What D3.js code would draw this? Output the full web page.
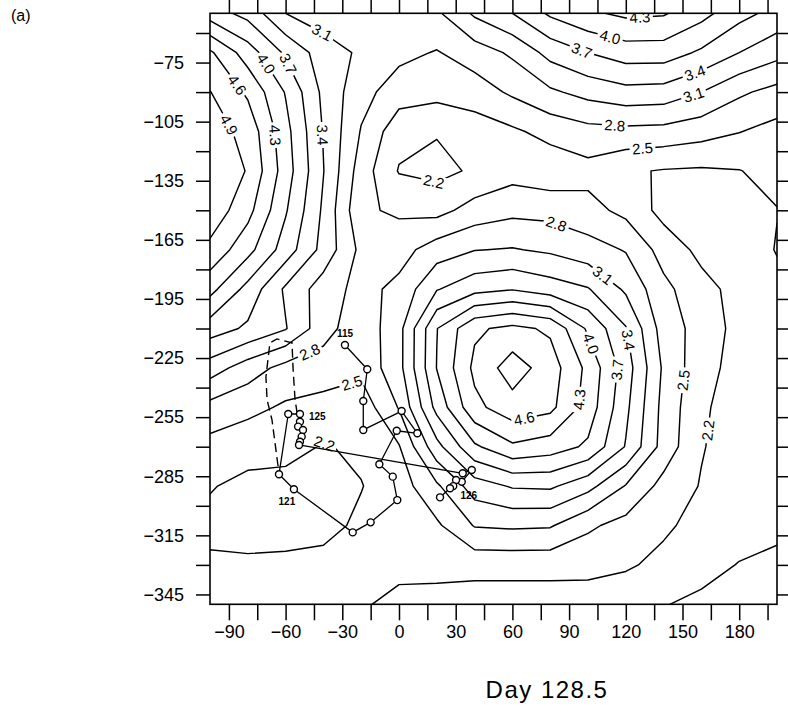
<!DOCTYPE html>
<html>
<head>
<meta charset="utf-8">
<script src="https://cdn.jsdelivr.net/npm/d3@7"></script>
<style>
  body { margin: 0; background: #fff; }
  svg { display: block; }
  text { font-family: "Liberation Sans", Arial, Helvetica, sans-serif; }
</style>
</head>
<body>
<svg id="chart" width="788" height="725"></svg>
<script>
// Analysed field on a regular 20-unit grid (rows from y = -50 down to y = -350)
const gridLon = d3.range(-100, 201, 20);
const gridLat = d3.range(-50, -351, -20);
const field = [
  [3.85, 3.60, 3.10, 2.95, 2.90, 2.90, 3.05, 3.45, 3.70, 4.05, 4.25, 4.36, 4.33, 4.10, 3.80, 3.60],
  [4.65, 4.15, 3.65, 3.25, 3.05, 2.88, 2.78, 2.95, 3.15, 3.50, 3.70, 3.85, 3.85, 3.65, 3.40, 3.20],
  [4.91, 4.55, 3.98, 3.33, 2.90, 2.65, 2.60, 2.65, 2.85, 3.05, 3.20, 3.30, 3.28, 3.10, 2.85, 2.70],
  [5.05, 4.80, 4.10, 3.38, 2.78, 2.30, 2.22, 2.35, 2.45, 2.60, 2.70, 2.72, 2.70, 2.62, 2.51, 2.40],
  [5.15, 4.88, 4.15, 3.41, 2.65, 2.18, 2.12, 2.24, 2.38, 2.30, 2.40, 2.24, 2.18, 2.16, 2.19, 2.30],
  [5.10, 4.70, 4.03, 3.35, 2.55, 2.45, 2.40, 2.62, 2.72, 2.70, 2.60, 2.42, 2.10, 2.05, 2.08, 2.19],
  [4.82, 4.40, 3.86, 3.30, 2.72, 2.68, 2.95, 3.09, 3.12, 3.05, 2.92, 2.78, 2.38, 2.12, 1.98, 2.22],
  [4.40, 3.90, 3.35, 2.95, 2.70, 2.88, 3.38, 3.60, 3.68, 3.55, 3.42, 3.05, 2.58, 2.30, 2.10, 2.10],
  [3.85, 3.65, 3.42, 2.92, 2.60, 3.00, 3.99, 4.55, 4.68, 4.55, 3.95, 3.42, 2.66, 2.38, 2.10, 2.05],
  [3.25, 2.95, 2.70, 2.65, 2.58, 3.00, 4.01, 4.67, 5.05, 4.75, 4.22, 3.55, 2.75, 2.30, 2.10, 2.05],
  [2.70, 2.58, 2.46, 2.40, 2.32, 2.82, 3.80, 4.52, 4.78, 4.68, 4.17, 3.47, 2.70, 2.25, 2.05, 2.00],
  [2.40, 2.32, 2.30, 2.18, 2.25, 2.48, 3.30, 3.95, 4.25, 4.15, 3.95, 3.38, 2.68, 2.22, 2.05, 2.00],
  [2.22, 2.12, 2.10, 2.10, 2.19, 2.35, 2.75, 3.25, 3.43, 3.45, 3.20, 2.78, 2.40, 2.18, 2.05, 1.98],
  [2.12, 2.05, 2.05, 2.12, 2.25, 2.32, 2.45, 2.82, 2.85, 2.83, 2.55, 2.40, 2.25, 2.10, 2.00, 1.95],
  [2.25, 2.26, 2.28, 2.28, 2.28, 2.30, 2.33, 2.30, 2.30, 2.30, 2.30, 2.24, 2.12, 1.98, 1.89, 1.85],
  [2.30, 2.30, 2.30, 2.28, 2.24, 2.10, 2.05, 2.05, 2.05, 2.05, 2.04, 2.00, 1.91, 1.85, 1.80, 1.75]
];
const levels = [1.9, 2.2, 2.5, 2.8, 3.1, 3.4, 3.7, 4.0, 4.3, 4.6, 4.9];

// Contour labels: level and approximate place along the line
const labelLevel = [4.9, 4.6, 4.3, 4.0, 3.7, 3.4, 3.1, 2.8, 2.5, 2.2,
                    4.3, 4.0, 3.7, 3.4, 3.1, 2.8, 2.5,
                    2.2,
                    2.8, 3.1, 3.4, 3.7, 4.0, 4.3, 4.6, 2.5, 2.2];
const labelLon = [-88.4, -85.7, -64.6, -69.8, -56.6, -40.7, -39.2, -48.1, -25.9, -39.2,
                  127.5, 111.6, 96.8, 156.6, 155.6, 114.3, 128.6,
                  18,
                  83.6, 110, 121.2, 115.9, 102.6, 97.4, 66.7, 148.7, 161.9];
const labelLat = [-105.7, -86.4, -111.8, -75.2, -74.7, -111.8, -57, -220, -234.6, -267.6,
                  -52.4, -62.5, -68.6, -80.3, -90.5, -105.2, -115.9,
                  -137.2,
                  -156, -180.3, -215.8, -231, -217.3, -246.3, -258, -236.1, -261.5];

// Track positions
const trackLon = [-28.6, -16.8, -18.9, -18.9, 1.4, 9.7, -1.2, -10.4, -3.3, -0.9, -15.0, -24.5,
                  -55.6, -63.5, -58.6, -52.4, -52.4, -53.4, -50.8, -51.5, -52.4, -52.9,
                  33.7, 38.5, 33.2, 30.2, 28.7, 27.0, 21.7];
const trackLat = [-218.4, -230.7, -246.8, -261.5, -251.9, -263.2, -261.9, -278.9, -285.2, -297.1, -308.4, -313.5,
                  -291.6, -284.0, -253.4, -253.4, -257.3, -259.8, -261.5, -264.9, -267.5, -269.1,
                  -283.5, -281.8, -287.8, -286.9, -290.0, -291.1, -295.7];
const dayText = ["115", "121", "125", "126"];
const dayIndex = [0, 12, 15, 24];

// Dashed outline
const dashLon = [-64.0, -67.2, -69.8, -70.4, -68.3, -64.6, -56.6, -56.1, -55.0, -54.0];
const dashLat = [-279.8, -256.4, -246.2, -234.6, -217.3, -215.3, -217.3, -229.5, -246.2, -252.3];

// Axis ticks
const xTicks = d3.range(-90, 196, 15);
const xTickLabels = [-90, -60, -30, 0, 30, 60, 90, 120, 150, 180];
const yTicks = d3.range(-60, -346, -15);
const yTickLabels = [-75, -105, -135, -165, -195, -225, -255, -285, -315, -345];

const titleText = "Day 128.5";
const panelText = "(a)";

// ---------------------------------------------------------------
const svg = d3.select("#chart");
const x = d3.scaleLinear().domain([-100, 200]).range([210, 777]);
const y = d3.scaleLinear().domain([-50, -350]).range([13.3, 604.3]);
const X0 = x.range()[0], X1 = x.range()[1], Y0 = y.range()[0], Y1 = y.range()[1];

svg.append("defs").append("clipPath").attr("id", "plotclip")
  .append("rect").attr("x", X0).attr("y", Y0).attr("width", X1 - X0).attr("height", Y1 - Y0);

const nx = gridLon.length, ny = gridLat.length;
const step = gridLon[1] - gridLon[0];
const gx = c => gridLon[0] + (c - 0.5) * step;
const gy = r => gridLat[0] - (r - 0.5) * step;
const toPx = p => [x(gx(p[0])), y(gy(p[1]))];

const contours = d3.contours().size([nx, ny]).thresholds(levels)(field.flat());
const proj = d3.geoTransform({
  point(px, py) { const q = toPx([px, py]); this.stream.point(q[0], q[1]); }
});
const geo = d3.geoPath(proj);

const plot = svg.append("g").attr("clip-path", "url(#plotclip)");
plot.selectAll("path.iso").data(contours).join("path")
  .attr("class", "iso")
  .attr("d", geo)
  .attr("fill", "none")
  .attr("stroke", "#000")
  .attr("stroke-width", 1.45)
  .attr("stroke-linejoin", "round");

// place each label on its contour, oriented along the line
const inside = p => p[0] >= X0 - 0.5 && p[0] <= X1 + 0.5 && p[1] >= Y0 - 0.5 && p[1] <= Y1 + 0.5;
function snap(level, tx, ty) {
  const c = contours.find(d => Math.abs(d.value - level) < 1e-6);
  let best = null;
  c.coordinates.forEach(poly => poly.forEach(ring => {
    const pts = ring.map(toPx);
    for (let i = 0; i < pts.length - 1; i++) {
      const a = pts[i], b = pts[i + 1];
      if (!inside(a) || !inside(b)) continue;
      const dx = b[0] - a[0], dy = b[1] - a[1];
      const L2 = dx * dx + dy * dy;
      if (L2 < 1e-9) continue;
      let t = ((tx - a[0]) * dx + (ty - a[1]) * dy) / L2;
      t = Math.max(0, Math.min(1, t));
      const qx = a[0] + t * dx, qy = a[1] + t * dy;
      const d2 = (qx - tx) ** 2 + (qy - ty) ** 2;
      if (!best || d2 < best.d2) best = { d2, qx, qy, ang: Math.atan2(dy, dx) * 180 / Math.PI };
    }
  }));
  let a = best.ang;
  if (a > 90) a -= 180;
  if (a <= -90) a += 180;
  return { x: best.qx, y: best.qy, ang: a };
}
const fmt1 = d3.format(".1f");
const labG = plot.append("g");
labelLevel.forEach((lev, i) => {
  const s = snap(lev, x(labelLon[i]), y(labelLat[i]));
  const g = labG.append("g").attr("transform", `translate(${s.x},${s.y}) rotate(${s.ang})`);
  const rect = g.append("rect").attr("fill", "#fff");
  const t = g.append("text")
    .attr("text-anchor", "middle")
    .attr("dy", "0.36em")
    .attr("font-size", 15)
    .attr("fill", "#000")
    .text(fmt1(lev));
  const w = t.node().getComputedTextLength() + 5;
  rect.attr("x", -w / 2).attr("y", -6).attr("width", w).attr("height", 12);
});

// dashed outline
const dashPts = dashLon.map((v, i) => [v, dashLat[i]]);
const line = d3.line().x(d => x(d[0])).y(d => y(d[1]));
plot.append("path").attr("d", line(dashPts))
  .attr("fill", "none").attr("stroke", "#000").attr("stroke-width", 1.4)
  .attr("stroke-dasharray", "9,5");

// track
const trackPts = trackLon.map((v, i) => [v, trackLat[i]]);
plot.append("path").attr("d", line(trackPts))
  .attr("fill", "none").attr("stroke", "#000").attr("stroke-width", 1.3)
  .attr("stroke-linejoin", "round");
plot.selectAll("circle.trk").data(trackPts).join("circle")
  .attr("class", "trk")
  .attr("cx", d => x(d[0])).attr("cy", d => y(d[1]))
  .attr("r", 3.5)
  .attr("fill", "#fff").attr("stroke", "#000").attr("stroke-width", 1.4);

const dayOffset = { "115": [0, -8, "middle"], "121": [-7, 16, "middle"], "125": [9, 6, "start"], "126": [7, 17, "middle"] };
dayText.forEach((txt, k) => {
  const p = trackPts[dayIndex[k]];
  const o = dayOffset[txt];
  plot.append("text")
    .attr("x", x(p[0]) + o[0]).attr("y", y(p[1]) + o[1])
    .attr("text-anchor", o[2])
    .attr("font-size", 10).attr("font-weight", "bold")
    .text(txt);
});

// frame
svg.append("rect").attr("x", X0).attr("y", Y0).attr("width", X1 - X0).attr("height", Y1 - Y0)
  .attr("fill", "none").attr("stroke", "#000").attr("stroke-width", 1.6);

// axes
const fmtTick = d3.format("d");
const xLab = v => xTickLabels.includes(v) ? fmtTick(v) : "";
const yLab = v => yTickLabels.includes(v) ? fmtTick(v) : "";
function styleAxis(g, size) {
  g.select(".domain").remove();
  g.selectAll(".tick line").attr("stroke", "#000").attr("stroke-width", 1.5);
  g.selectAll(".tick text").attr("font-size", size).attr("fill", "#000")
    .attr("font-family", '"Liberation Sans", Arial, Helvetica, sans-serif');
}
svg.append("g").attr("transform", `translate(0,${Y1})`)
  .call(d3.axisBottom(x).tickValues(xTicks).tickSizeInner(16).tickSizeOuter(0).tickPadding(5).tickFormat(xLab))
  .call(g => styleAxis(g, 18));
svg.append("g").attr("transform", `translate(0,${Y0})`)
  .call(d3.axisTop(x).tickValues(xTicks).tickSizeInner(14).tickSizeOuter(0).tickFormat(""))
  .call(g => styleAxis(g, 18));
svg.append("g").attr("transform", `translate(${X0},0)`)
  .call(d3.axisLeft(y).tickValues(yTicks).tickSizeInner(14).tickSizeOuter(0).tickPadding(12).tickFormat(yLab))
  .call(g => styleAxis(g, 18));
svg.append("g").attr("transform", `translate(${X1},0)`)
  .call(d3.axisRight(y).tickValues(yTicks).tickSizeInner(12).tickSizeOuter(0).tickFormat(""))
  .call(g => styleAxis(g, 18));

// captions
svg.append("text").attr("x", 11).attr("y", 21)
  .attr("font-family", '"Liberation Serif", "Times New Roman", serif')
  .attr("font-size", 16).text(panelText);
svg.append("text").attr("x", 547).attr("y", 698)
  .attr("text-anchor", "middle").attr("font-size", 24).attr("letter-spacing", 1.5)
  .text(titleText);
</script>
</body>
</html>
